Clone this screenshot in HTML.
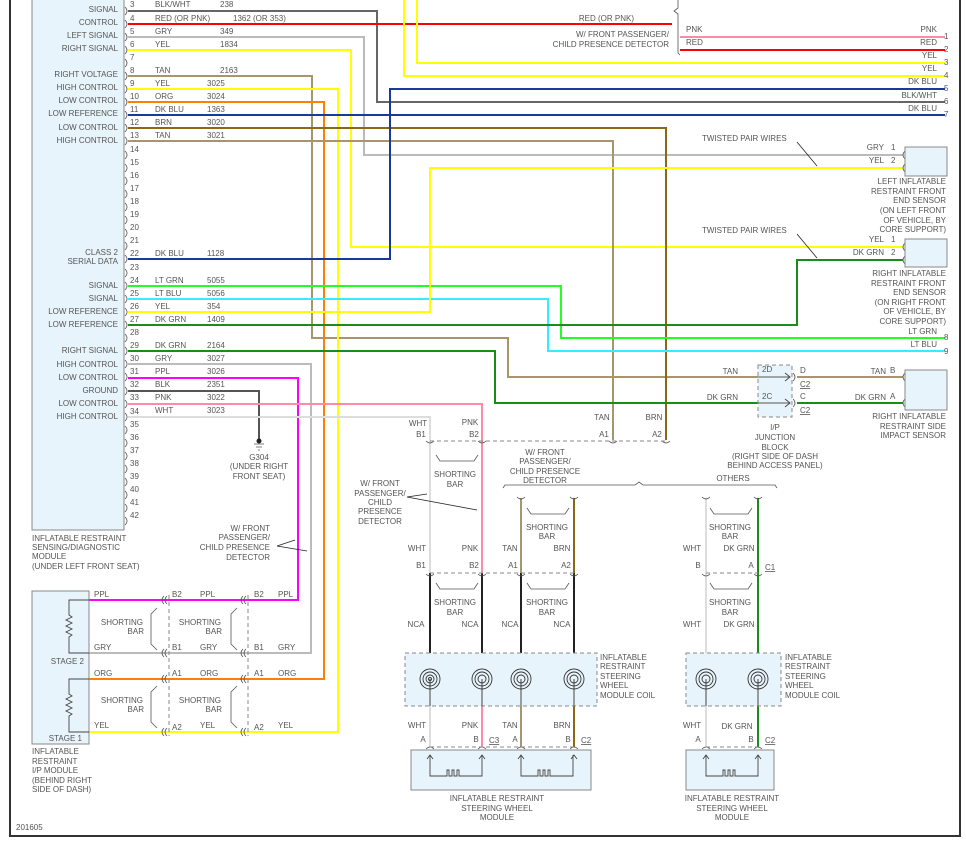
<!DOCTYPE html>
<html><head><meta charset="utf-8"><style>
html,body{margin:0;padding:0;background:#fff;}
svg{display:block;}
text{font-family:"Liberation Sans",sans-serif;font-size:8px;fill:#555;}
.r{text-anchor:end}.m{text-anchor:middle}
</style></head><body>
<svg width="966" height="845" viewBox="0 0 966 845" xmlns="http://www.w3.org/2000/svg">
<rect width="966" height="845" fill="#fff"/>
<!-- frame -->
<path d="M10,0V836H960V0" fill="none" stroke="#333" stroke-width="2"/>
<!-- SDM module -->
<rect x="32" y="-2" width="92" height="532" fill="#e8f4fb" stroke="#888"/>
<g fill="none" stroke-width="2">
<polyline stroke="#666" points="128,11 377,11 377,102 945,102"/>
<polyline stroke="#f00" points="128,24 672,24"/>
<polyline stroke="#bbb" points="128,37 364,37 364,155 903,155"/>
<polyline stroke="#ff0" points="128,50 351,50 351,247 903,247"/>
<polyline stroke="#a8956a" points="128,76 312,76 312,338 508,338 508,377 790,377"/>
<polyline stroke="#a8956a" points="797,377 903,377"/>
<polyline stroke="#ff0" points="128,89 338,89 338,732 89,732"/>
<polyline stroke="#ff7f00" points="128,102 324,102 324,679 89,679"/>
<polyline stroke="#1a3a9a" points="128,115 945,115"/>
<polyline stroke="#8b6914" points="128,128 666,128 666,440"/>
<polyline stroke="#a8956a" points="128,141 613,141 613,440"/>
<polyline stroke="#1a3a9a" points="128,259 390,259 390,89 945,89"/>
<polyline stroke="#2f2" points="128,286 561,286 561,338 945,338"/>
<polyline stroke="#3ef" points="128,299 548,299 548,351 945,351"/>
<polyline stroke="#ff0" points="128,312 430,312 430,168 903,168"/>
<polyline stroke="#1a8c1a" points="128,325 797,325 797,260 903,260"/>
<polyline stroke="#1a8c1a" points="128,351 495,351 495,403 790,403"/>
<polyline stroke="#1a8c1a" points="797,403 903,403"/>
<polyline stroke="#bbb" points="128,364 311,364 311,653 89,653"/>
<polyline stroke="#f0f" points="128,378 298,378 298,600 89,600"/>
<polyline stroke="#555" points="128,391 259,391 259,440"/>
<polyline stroke="#ff8aa8" points="128,404 482,404 482,573"/>
<polyline stroke="#ddd" points="128,417 430,417 430,573"/>
<polyline stroke="#ff0" points="417,0 417,63 945,63"/>
<polyline stroke="#ff0" points="404,0 404,76 945,76"/>
<polyline stroke="#ff8aa8" points="680,37 945,37"/>
<polyline stroke="#f00" points="680,50 945,50"/>
<!-- steering -->
<polyline stroke="#a8956a" points="521,498 521,573"/>
<polyline stroke="#8b6914" points="574,498 574,573"/>
<polyline stroke="#ddd" points="706,498 706,573 706,653"/>
<polyline stroke="#1a8c1a" points="758,498 758,573 758,653"/>
<polyline stroke="#222" points="430,573 430,653"/>
<polyline stroke="#222" points="482,573 482,653"/>
<polyline stroke="#222" points="521,573 521,653"/>
<polyline stroke="#222" points="574,573 574,653"/>
<polyline stroke="#ddd" points="430,706 430,747"/>
<polyline stroke="#ff8aa8" points="482,706 482,747"/>
<polyline stroke="#a8956a" points="521,706 521,747"/>
<polyline stroke="#8b6914" points="574,706 574,747"/>
<polyline stroke="#ddd" points="706,706 706,747"/>
<polyline stroke="#1a8c1a" points="758,706 758,747"/>
</g>
<!-- pin brackets -->
<g fill="none" stroke="#555" stroke-width="0.8">
<path d="M125,7q4,4 0,8M125,20q4,4 0,8M125,33q4,4 0,8M125,46q4,4 0,8M125,59q4,4 0,8M125,72q4,4 0,8M125,85q4,4 0,8M125,98q4,4 0,8M125,111q4,4 0,8M125,124q4,4 0,8M125,137q4,4 0,8M125,151q4,4 0,8M125,164q4,4 0,8M125,177q4,4 0,8M125,190q4,4 0,8M125,203q4,4 0,8M125,216q4,4 0,8M125,229q4,4 0,8M125,242q4,4 0,8M125,255q4,4 0,8M125,269q4,4 0,8M125,282q4,4 0,8M125,295q4,4 0,8M125,308q4,4 0,8M125,321q4,4 0,8M125,334q4,4 0,8M125,347q4,4 0,8M125,360q4,4 0,8M125,373q4,4 0,8M125,387q4,4 0,8M125,400q4,4 0,8M125,413q4,4 0,8M125,426q4,4 0,8M125,439q4,4 0,8M125,452q4,4 0,8M125,465q4,4 0,8M125,478q4,4 0,8M125,491q4,4 0,8M125,504q4,4 0,8M125,517q4,4 0,8"/>
<!-- brace top -->
<path d="M678,0v8l-4,3 4,3v39l2,2"/>
<!-- ground -->
<path d="M254,444h10M256,447h6M258,450h2"/>
<!-- arrows -->
<path d="M277,546l18,-6M277,546l30,5M407,497l20,-3M407,497l70,13M797,142l20,24M797,234l20,24" stroke="#222"/>
<!-- steering connectors -->
<path d="M426,441q4,4 8,0M478,441q4,4 8,0M609,441q4,4 8,0M662,441q4,4 8,0M517,497q4,4 8,0M570,497q4,4 8,0M702,497q4,4 8,0M754,497q4,4 8,0M426,574q4,4 8,0M478,574q4,4 8,0M517,574q4,4 8,0M570,574q4,4 8,0M702,574q4,4 8,0M754,574q4,4 8,0M426,749q4,-4 8,0M478,749q4,-4 8,0M517,749q4,-4 8,0M570,749q4,-4 8,0M702,749q4,-4 8,0M754,749q4,-4 8,0"/>
<!-- shorting bars -->
<path d="M436,455l4,6h34l4,-6M527,508l4,6h34l4,-6M710,508l4,6h34l4,-6M436,583l4,6h34l4,-6M527,583l4,6h34l4,-6M710,583l4,6h34l4,-6"/>
<path d="M157,608l-6,6v30l6,6M157,686l-6,6v30l6,6M237,608l-6,6v30l6,6M237,686l-6,6v30l6,6"/>
<!-- brace -->
<path d="M503,488l2,-3h130l4,-3 4,3h132l2,3"/>
<!-- left connectors -->
<path d="M167,596q-4,4 0,8M164,596q-4,4 0,8M167,649q-4,4 0,8M164,649q-4,4 0,8M167,675q-4,4 0,8M164,675q-4,4 0,8M167,728q-4,4 0,8M164,728q-4,4 0,8M246,596q-4,4 0,8M243,596q-4,4 0,8M246,649q-4,4 0,8M243,649q-4,4 0,8M246,675q-4,4 0,8M243,675q-4,4 0,8M246,728q-4,4 0,8M243,728q-4,4 0,8"/>
<path d="M905,151q-4,4 0,8M905,164q-4,4 0,8M905,243q-4,4 0,8M905,256q-4,4 0,8M905,373q-4,4 0,8M905,399q-4,4 0,8M793,373q4,4 0,8M793,399q4,4 0,8"/>
</g>
<circle cx="259" cy="441" r="2.5" fill="#222"/>
<g fill="none" stroke="#888" stroke-dasharray="4,3">
<path d="M430,441H668M430,573H574M706,573H758M430,747H574M706,747H758M169,595V736M248,595V736"/>
<rect x="758" y="365" width="34" height="52" fill="#e8f4fb"/>
<rect x="405" y="653" width="192" height="53" fill="#e8f4fb"/>
<rect x="686" y="653" width="95" height="53" fill="#e8f4fb"/>
</g>
<g stroke="#555" stroke-width="1" fill="none">
<path d="M758,377h32M758,403h32"/>
</g>
<!-- coils -->
<g fill="none" stroke="#333" stroke-width="0.9">
<g id="c"><circle cx="430" cy="679" r="10"/><circle cx="430" cy="679" r="7"/><circle cx="430" cy="679" r="4"/><circle cx="430" cy="679" r="1.5"/></g>
<circle cx="482" cy="679" r="10"/><circle cx="482" cy="679" r="7"/><circle cx="482" cy="679" r="4"/>
<circle cx="521" cy="679" r="10"/><circle cx="521" cy="679" r="7"/><circle cx="521" cy="679" r="4"/>
<circle cx="574" cy="679" r="10"/><circle cx="574" cy="679" r="7"/><circle cx="574" cy="679" r="4"/>
<circle cx="706" cy="679" r="10"/><circle cx="706" cy="679" r="7"/><circle cx="706" cy="679" r="4"/>
<circle cx="758" cy="679" r="10"/><circle cx="758" cy="679" r="7"/><circle cx="758" cy="679" r="4"/>
<path d="M430,679v27M482,679v27M521,679v27M574,679v27M706,679v27M758,679v27"/>
</g>
<!-- boxes -->
<g stroke="#888" fill="#e8f4fb">
<rect x="905" y="147" width="42" height="29"/>
<rect x="905" y="239" width="42" height="28"/>
<rect x="905" y="370" width="42" height="40"/>
<rect x="411" y="750" width="180" height="40"/>
<rect x="686" y="750" width="88" height="40"/>
<rect x="32" y="591" width="57" height="153"/>
</g>
<g fill="none" stroke="#444" stroke-width="0.9">
<path d="M430,755v21h17v-6h2v6h3v-6h2v6h3v-6h2v6h23v-21M521,755v21h17v-6h2v6h3v-6h2v6h3v-6h2v6h23v-21M706,755v21h17v-6h2v6h3v-6h2v6h3v-6h2v6h23v-21"/>
<path d="M427,759l3,-4 3,4M479,759l3,-4 3,4M518,759l3,-4 3,4M571,759l3,-4 3,4M703,759l3,-4 3,4M755,759l3,-4 3,4"/>
<path d="M89,600H69v15l3,2-6,3 6,3-6,3 6,3-6,3 6,3-3,2v16h20M89,679H69v15l3,2-6,3 6,3-6,3 6,3-6,3 6,3-3,2v16h20"/>
<path d="M785,373l5,4-5,4M785,399l5,4-5,4"/>
</g>
<!-- module labels -->
<g class="r">
<text x="118" y="12" class="r">SIGNAL</text><text x="118" y="25" class="r">CONTROL</text><text x="118" y="38" class="r">LEFT SIGNAL</text><text x="118" y="51" class="r">RIGHT SIGNAL</text>
<text x="118" y="77" class="r">RIGHT VOLTAGE</text><text x="118" y="90" class="r">HIGH CONTROL</text><text x="118" y="103" class="r">LOW CONTROL</text><text x="118" y="116" class="r">LOW REFERENCE</text><text x="118" y="130" class="r">LOW CONTROL</text><text x="118" y="143" class="r">HIGH CONTROL</text>
<text x="118" y="255" class="r">CLASS 2</text><text x="118" y="264" class="r">SERIAL DATA</text>
<text x="118" y="288" class="r">SIGNAL</text><text x="118" y="301" class="r">SIGNAL</text><text x="118" y="314" class="r">LOW REFERENCE</text><text x="118" y="327" class="r">LOW REFERENCE</text>
<text x="118" y="353" class="r">RIGHT SIGNAL</text><text x="118" y="367" class="r">HIGH CONTROL</text><text x="118" y="380" class="r">LOW CONTROL</text><text x="118" y="393" class="r">GROUND</text><text x="118" y="406" class="r">LOW CONTROL</text><text x="118" y="419" class="r">HIGH CONTROL</text>
</g>
<g>
<text x="130" y="7">3</text><text x="130" y="21">4</text><text x="130" y="34">5</text><text x="130" y="47">6</text><text x="130" y="60">7</text><text x="130" y="73">8</text><text x="130" y="86">9</text><text x="130" y="99">10</text><text x="130" y="112">11</text><text x="130" y="125">12</text><text x="130" y="138">13</text><text x="130" y="152">14</text><text x="130" y="165">15</text><text x="130" y="178">16</text><text x="130" y="191">17</text><text x="130" y="204">18</text><text x="130" y="217">19</text><text x="130" y="230">20</text><text x="130" y="243">21</text><text x="130" y="256">22</text><text x="130" y="270">23</text><text x="130" y="283">24</text><text x="130" y="296">25</text><text x="130" y="309">26</text><text x="130" y="322">27</text><text x="130" y="335">28</text><text x="130" y="348">29</text><text x="130" y="361">30</text><text x="130" y="374">31</text><text x="130" y="387">32</text><text x="130" y="400">33</text><text x="130" y="414">34</text><text x="130" y="427">35</text><text x="130" y="440">36</text><text x="130" y="453">37</text><text x="130" y="466">38</text><text x="130" y="479">39</text><text x="130" y="492">40</text><text x="130" y="505">41</text><text x="130" y="518">42</text>
<text x="155" y="7">BLK/WHT</text><text x="220" y="7">238</text>
<text x="155" y="21">RED (OR PNK)</text><text x="233" y="21">1362 (OR 353)</text>
<text x="155" y="34">GRY</text><text x="220" y="34">349</text>
<text x="155" y="47">YEL</text><text x="220" y="47">1834</text>
<text x="155" y="73">TAN</text><text x="220" y="73">2163</text>
<text x="155" y="86">YEL</text><text x="207" y="86">3025</text>
<text x="155" y="99">ORG</text><text x="207" y="99">3024</text>
<text x="155" y="112">DK BLU</text><text x="207" y="112">1363</text>
<text x="155" y="125">BRN</text><text x="207" y="125">3020</text>
<text x="155" y="138">TAN</text><text x="207" y="138">3021</text>
<text x="155" y="256">DK BLU</text><text x="207" y="256">1128</text>
<text x="155" y="283">LT GRN</text><text x="207" y="283">5055</text>
<text x="155" y="296">LT BLU</text><text x="207" y="296">5056</text>
<text x="155" y="309">YEL</text><text x="207" y="309">354</text>
<text x="155" y="322">DK GRN</text><text x="207" y="322">1409</text>
<text x="155" y="348">DK GRN</text><text x="207" y="348">2164</text>
<text x="155" y="361">GRY</text><text x="207" y="361">3027</text>
<text x="155" y="374">PPL</text><text x="207" y="374">3026</text>
<text x="155" y="387">BLK</text><text x="207" y="387">2351</text>
<text x="155" y="400">PNK</text><text x="207" y="400">3022</text>
<text x="155" y="413">WHT</text><text x="207" y="413">3023</text>
<text x="32" y="541">INFLATABLE RESTRAINT</text><text x="32" y="550">SENSING/DIAGNOSTIC</text><text x="32" y="559">MODULE</text><text x="32" y="569">(UNDER LEFT FRONT SEAT)</text>
<text x="259" y="460" class="m">G304</text><text x="259" y="469" class="m">(UNDER RIGHT</text><text x="259" y="479" class="m">FRONT SEAT)</text>
<text x="270" y="531" class="r">W/ FRONT</text><text x="270" y="540" class="r">PASSENGER/</text><text x="270" y="550" class="r">CHILD PRESENCE</text><text x="270" y="560" class="r">DETECTOR</text>
<!-- left bottom -->
<text x="94" y="597">PPL</text><text x="200" y="597">PPL</text><text x="278" y="597">PPL</text>
<text x="94" y="650">GRY</text><text x="200" y="650">GRY</text><text x="278" y="650">GRY</text>
<text x="94" y="676">ORG</text><text x="200" y="676">ORG</text><text x="278" y="676">ORG</text>
<text x="94" y="728">YEL</text><text x="200" y="728">YEL</text><text x="278" y="728">YEL</text>
<text x="172" y="597">B2</text><text x="254" y="597">B2</text><text x="172" y="650">B1</text><text x="254" y="650">B1</text>
<text x="172" y="676">A1</text><text x="254" y="676">A1</text><text x="172" y="730">A2</text><text x="254" y="730">A2</text>
<text x="143" y="625" class="r">SHORTING</text><text x="144" y="634" class="r">BAR</text><text x="221" y="625" class="r">SHORTING</text><text x="222" y="634" class="r">BAR</text>
<text x="143" y="703" class="r">SHORTING</text><text x="144" y="712" class="r">BAR</text><text x="221" y="703" class="r">SHORTING</text><text x="222" y="712" class="r">BAR</text>
<text x="84" y="664" class="r">STAGE 2</text><text x="82" y="741" class="r">STAGE 1</text>
<text x="32" y="754">INFLATABLE</text><text x="32" y="764">RESTRAINT</text><text x="32" y="773">I/P MODULE</text><text x="32" y="783">(BEHIND RIGHT</text><text x="32" y="792">SIDE OF DASH)</text>
<text x="16" y="830">201605</text>
<!-- top right -->
<text x="634" y="21" class="r">RED (OR PNK)</text>
<text x="669" y="37" class="r">W/ FRONT PASSENGER/</text><text x="669" y="47" class="r">CHILD PRESENCE DETECTOR</text>
<text x="686" y="32">PNK</text><text x="686" y="45">RED</text>
<text x="937" y="32" class="r">PNK</text><text x="937" y="45" class="r">RED</text><text x="937" y="58" class="r">YEL</text><text x="937" y="71" class="r">YEL</text><text x="937" y="84" class="r">DK BLU</text><text x="937" y="98" class="r">BLK/WHT</text><text x="937" y="111" class="r">DK BLU</text>
<text x="944" y="39">1</text><text x="944" y="52">2</text><text x="944" y="65">3</text><text x="944" y="78">4</text><text x="944" y="91">5</text><text x="944" y="104">6</text><text x="944" y="117">7</text>
<text x="937" y="334" class="r">LT GRN</text><text x="944" y="340">8</text><text x="937" y="347" class="r">LT BLU</text><text x="944" y="354">9</text>
<text x="702" y="141">TWISTED PAIR WIRES</text><text x="702" y="233">TWISTED PAIR WIRES</text>
<text x="884" y="150" class="r">GRY</text><text x="891" y="150">1</text><text x="884" y="163" class="r">YEL</text><text x="891" y="163">2</text>
<text x="884" y="242" class="r">YEL</text><text x="891" y="242">1</text><text x="884" y="255" class="r">DK GRN</text><text x="891" y="255">2</text>
<text x="946" y="184" class="r">LEFT INFLATABLE</text><text x="946" y="194" class="r">RESTRAINT FRONT</text><text x="946" y="203" class="r">END SENSOR</text><text x="946" y="213" class="r">(ON LEFT FRONT</text><text x="946" y="223" class="r">OF VEHICLE, BY</text><text x="946" y="232" class="r">CORE SUPPORT)</text>
<text x="946" y="276" class="r">RIGHT INFLATABLE</text><text x="946" y="286" class="r">RESTRAINT FRONT</text><text x="946" y="295" class="r">END SENSOR</text><text x="946" y="305" class="r">(ON RIGHT FRONT</text><text x="946" y="314" class="r">OF VEHICLE, BY</text><text x="946" y="324" class="r">CORE SUPPORT)</text>
<text x="738" y="374" class="r">TAN</text><text x="738" y="400" class="r">DK GRN</text>
<text x="762" y="372">2D</text><text x="762" y="399">2C</text><text x="800" y="373">D</text><text x="800" y="399">C</text>
<text x="800" y="387" text-decoration="underline">C2</text><text x="800" y="413" text-decoration="underline">C2</text>
<text x="886" y="374" class="r">TAN</text><text x="890" y="373">B</text><text x="886" y="400" class="r">DK GRN</text><text x="890" y="399">A</text>
<text x="946" y="419" class="r">RIGHT INFLATABLE</text><text x="946" y="429" class="r">RESTRAINT SIDE</text><text x="946" y="438" class="r">IMPACT SENSOR</text>
<text x="775" y="430" class="m">I/P</text><text x="775" y="440" class="m">JUNCTION</text><text x="775" y="450" class="m">BLOCK</text><text x="775" y="459" class="m">(RIGHT SIDE OF DASH</text><text x="775" y="468" class="m">BEHIND ACCESS PANEL)</text>
<!-- steering labels -->
<text x="418" y="426" class="m">WHT</text><text x="470" y="425" class="m">PNK</text><text x="602" y="420" class="m">TAN</text><text x="654" y="420" class="m">BRN</text>
<text x="421" y="437" class="m">B1</text><text x="474" y="437" class="m">B2</text><text x="604" y="437" class="m">A1</text><text x="657" y="437" class="m">A2</text>
<text x="455" y="477" class="m">SHORTING</text><text x="455" y="487" class="m">BAR</text>
<text x="380" y="486" class="m">W/ FRONT</text><text x="380" y="496" class="m">PASSENGER/</text><text x="380" y="505" class="m">CHILD</text><text x="380" y="514" class="m">PRESENCE</text><text x="380" y="524" class="m">DETECTOR</text>
<text x="545" y="455" class="m">W/ FRONT</text><text x="545" y="464" class="m">PASSENGER/</text><text x="545" y="474" class="m">CHILD PRESENCE</text><text x="545" y="483" class="m">DETECTOR</text>
<text x="733" y="481" class="m">OTHERS</text>
<text x="547" y="530" class="m">SHORTING</text><text x="547" y="539" class="m">BAR</text><text x="730" y="530" class="m">SHORTING</text><text x="730" y="539" class="m">BAR</text>
<text x="417" y="551" class="m">WHT</text><text x="470" y="551" class="m">PNK</text><text x="510" y="551" class="m">TAN</text><text x="562" y="551" class="m">BRN</text><text x="692" y="551" class="m">WHT</text><text x="739" y="551" class="m">DK GRN</text>
<text x="421" y="568" class="m">B1</text><text x="474" y="568" class="m">B2</text><text x="513" y="568" class="m">A1</text><text x="566" y="568" class="m">A2</text><text x="698" y="568" class="m">B</text><text x="751" y="568" class="m">A</text><text x="765" y="570" text-decoration="underline">C1</text>
<text x="455" y="605" class="m">SHORTING</text><text x="455" y="615" class="m">BAR</text><text x="547" y="605" class="m">SHORTING</text><text x="547" y="615" class="m">BAR</text><text x="730" y="605" class="m">SHORTING</text><text x="730" y="615" class="m">BAR</text>
<text x="416" y="627" class="m">NCA</text><text x="470" y="627" class="m">NCA</text><text x="510" y="627" class="m">NCA</text><text x="562" y="627" class="m">NCA</text><text x="692" y="627" class="m">WHT</text><text x="739" y="627" class="m">DK GRN</text>
<text x="600" y="660">INFLATABLE</text><text x="600" y="669">RESTRAINT</text><text x="600" y="679">STEERING</text><text x="600" y="688">WHEEL</text><text x="600" y="698">MODULE COIL</text>
<text x="785" y="660">INFLATABLE</text><text x="785" y="669">RESTRAINT</text><text x="785" y="679">STEERING</text><text x="785" y="688">WHEEL</text><text x="785" y="698">MODULE COIL</text>
<text x="417" y="728" class="m">WHT</text><text x="470" y="728" class="m">PNK</text><text x="510" y="728" class="m">TAN</text><text x="562" y="728" class="m">BRN</text><text x="692" y="728" class="m">WHT</text><text x="737" y="729" class="m">DK GRN</text>
<text x="423" y="742" class="m">A</text><text x="476" y="742" class="m">B</text><text x="489" y="743" text-decoration="underline">C3</text><text x="515" y="742" class="m">A</text><text x="568" y="742" class="m">B</text><text x="581" y="743" text-decoration="underline">C2</text>
<text x="698" y="742" class="m">A</text><text x="751" y="742" class="m">B</text><text x="765" y="743" text-decoration="underline">C2</text>
<text x="497" y="801" class="m">INFLATABLE RESTRAINT</text><text x="497" y="811" class="m">STEERING WHEEL</text><text x="497" y="820" class="m">MODULE</text>
<text x="732" y="801" class="m">INFLATABLE RESTRAINT</text><text x="732" y="811" class="m">STEERING WHEEL</text><text x="732" y="820" class="m">MODULE</text>
</g>
</svg>
</body></html>
